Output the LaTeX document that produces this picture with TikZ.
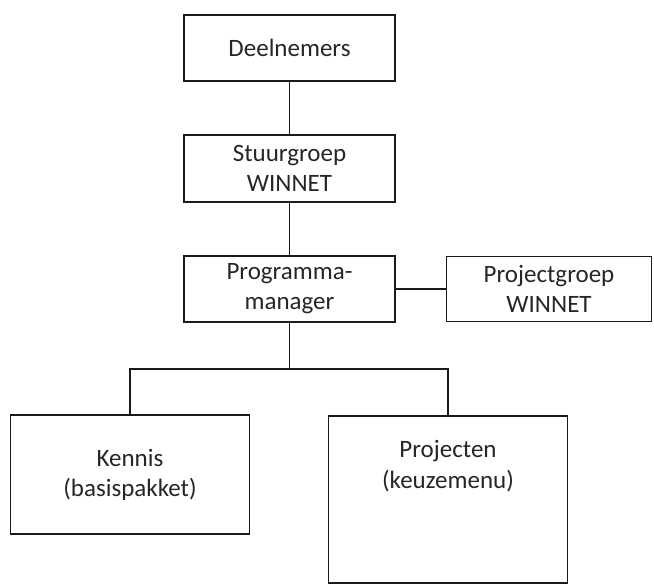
\documentclass[tikz,border=0pt]{standalone}
\usepackage{fontspec}
\setmainfont{Carlito}
\definecolor{txt}{HTML}{262626}
\definecolor{ln}{HTML}{1A1A1A}
\begin{document}
\begin{tikzpicture}[x=1pt,y=1pt,
  box/.style={draw=ln, line width=1.3pt, inner sep=0pt, align=center,
    text=txt, font=\fontsize{25}{30}\selectfont},
  conn/.style={draw=ln, line width=1.2pt},
  lbl/.style={inner sep=0pt, align=center, text=txt, font=\fontsize{25}{31}\selectfont}]
\useasboundingbox (0,0) rectangle (654,-585);
\node[box, minimum width=211pt, minimum height=66pt] (D) at (289.5,-48) {Deelnemers};
\node[box, minimum width=211pt, minimum height=67pt] (S) at (289.5,-168.5) {Stuurgroep\\WINNET};
\node[box, minimum width=211pt, minimum height=66pt] (P) at (289.5,-289) {Programma-\\manager};
\node[box, minimum width=205pt, minimum height=65pt] (PG) at (549,-289) {Projectgroep\\WINNET};
\node[box, minimum width=239pt, minimum height=119pt] (K) at (130,-474.5) {Kennis\\(basispakket)};
\node[box, minimum width=239pt, minimum height=167pt] (Pr) at (448,-499.5) {};
\node[lbl, anchor=center] (PrT) at (448,-466.5) {Projecten\\(keuzemenu)};
\coordinate (bus) at (289.5,-369);
\draw[conn] (D.south) -- (S.north);
\draw[conn] (S.south) -- (P.north);
\draw[conn] (P.east) -- (PG.west);
\draw[conn] (P.south) -- (bus);
\draw[conn] (bus) -| (K.north);
\draw[conn] (bus) -| (Pr.north);
\end{tikzpicture}
\end{document}
